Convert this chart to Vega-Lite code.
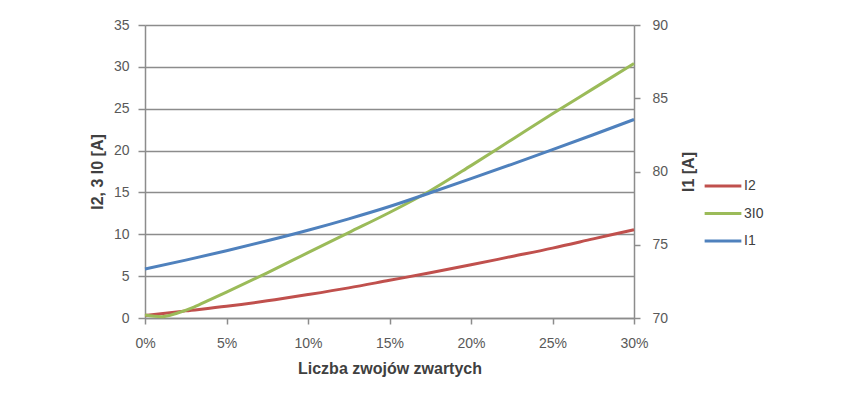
{
  "$schema": "https://vega.github.io/schema/vega-lite/v6.json",
  "autosize": {"type": "none"},
  "width": 489,
  "height": 293,
  "padding": {"left": 145, "top": 25, "right": 231, "bottom": 91},
  "background": "#ffffff",
  "config": {
    "view": {"stroke": null},
    "font": "Liberation Sans",
    "axis": {
      "labelFont": "Liberation Sans",
      "labelFontSize": 14,
      "labelColor": "#595959",
      "titleFont": "Liberation Sans",
      "titleFontSize": 16,
      "titleFontWeight": "bold",
      "titleColor": "#404040",
      "domainColor": "#8c8c8c",
      "tickColor": "#8c8c8c",
      "tickSize": 6,
      "domainWidth": 1.5,
      "tickWidth": 1.5
    }
  },
  "data": {
    "values": [
      {"x": 0.0, "series": "I2", "value": 0.3},
      {"x": 0.025, "series": "I2", "value": 0.85},
      {"x": 0.05, "series": "I2", "value": 1.4},
      {"x": 0.075, "series": "I2", "value": 2.05},
      {"x": 0.1, "series": "I2", "value": 2.8},
      {"x": 0.125, "series": "I2", "value": 3.6},
      {"x": 0.15, "series": "I2", "value": 4.5},
      {"x": 0.175, "series": "I2", "value": 5.4},
      {"x": 0.2, "series": "I2", "value": 6.35},
      {"x": 0.225, "series": "I2", "value": 7.35},
      {"x": 0.25, "series": "I2", "value": 8.35},
      {"x": 0.275, "series": "I2", "value": 9.45},
      {"x": 0.3, "series": "I2", "value": 10.55},
      {"x": 0.0, "series": "3I0", "value": 0.35},
      {"x": 0.01, "series": "3I0", "value": 0.15},
      {"x": 0.02, "series": "3I0", "value": 0.6},
      {"x": 0.03, "series": "3I0", "value": 1.3},
      {"x": 0.04, "series": "3I0", "value": 2.2},
      {"x": 0.05, "series": "3I0", "value": 3.1},
      {"x": 0.075, "series": "3I0", "value": 5.4},
      {"x": 0.1, "series": "3I0", "value": 7.8},
      {"x": 0.125, "series": "3I0", "value": 10.2},
      {"x": 0.15, "series": "3I0", "value": 12.6},
      {"x": 0.175, "series": "3I0", "value": 15.2},
      {"x": 0.2, "series": "3I0", "value": 18.2},
      {"x": 0.225, "series": "3I0", "value": 21.3},
      {"x": 0.25, "series": "3I0", "value": 24.4},
      {"x": 0.275, "series": "3I0", "value": 27.4},
      {"x": 0.3, "series": "3I0", "value": 30.4},
      {"x": 0.0, "series": "I1", "value": 73.35},
      {"x": 0.025, "series": "I1", "value": 73.95},
      {"x": 0.05, "series": "I1", "value": 74.59},
      {"x": 0.075, "series": "I1", "value": 75.27},
      {"x": 0.1, "series": "I1", "value": 75.99},
      {"x": 0.125, "series": "I1", "value": 76.77},
      {"x": 0.15, "series": "I1", "value": 77.61},
      {"x": 0.175, "series": "I1", "value": 78.55},
      {"x": 0.2, "series": "I1", "value": 79.51},
      {"x": 0.225, "series": "I1", "value": 80.49},
      {"x": 0.25, "series": "I1", "value": 81.49},
      {"x": 0.275, "series": "I1", "value": 82.51},
      {"x": 0.3, "series": "I1", "value": 83.55}
    ]
  },
  "encoding": {
    "x": {
      "field": "x",
      "type": "quantitative",
      "scale": {"domain": [0, 0.3], "nice": false, "zero": false},
      "axis": {
        "format": "%",
        "values": [0, 0.05, 0.1, 0.15, 0.2, 0.25, 0.3],
        "grid": false,
        "labelFlush": false,
        "title": "Liczba zwojów zwartych",
        "titlePadding": 10,
        "labelPadding": 12
      }
    },
    "color": {
      "field": "series",
      "type": "nominal",
      "scale": {"domain": ["I2", "3I0", "I1"], "range": ["#c0504d", "#9bbb59", "#4f81bd"]},
      "legend": {
        "title": null,
        "orient": "none",
        "legendX": 558,
        "legendY": 141,
        "symbolType": "stroke",
        "symbolSize": 1350,
        "symbolStrokeWidth": 3,
        "labelFontSize": 14,
        "labelColor": "#404040",
        "labelFont": "Liberation Sans",
        "rowPadding": 0.5,
        "labelOffset": 1
      }
    }
  },
  "layer": [
    {
      "transform": [{"filter": "datum.series !== 'I1'"}],
      "mark": {"type": "line", "strokeWidth": 3, "interpolate": "monotone"},
      "encoding": {
        "y": {
          "field": "value",
          "type": "quantitative",
          "scale": {"domain": [0, 35], "nice": false},
          "axis": {
            "values": [0, 5, 10, 15, 20, 25, 30, 35],
            "title": "I2, 3 I0 [A]",
            "grid": true,
            "gridColor": "#8c8c8c",
            "gridWidth": 1.5,
            "tickSize": 7,
            "titlePadding": 8,
            "labelPadding": 9
          }
        }
      }
    },
    {
      "transform": [{"filter": "datum.series === 'I1'"}],
      "mark": {"type": "line", "strokeWidth": 3, "interpolate": "monotone"},
      "encoding": {
        "y": {
          "field": "value",
          "type": "quantitative",
          "scale": {"domain": [70, 90], "nice": false, "zero": false},
          "axis": {
            "orient": "right",
            "values": [70, 75, 80, 85, 90],
            "title": "I1 [A]",
            "titleAngle": 270,
            "titleBaseline": "top",
            "grid": false,
            "titlePadding": 13,
            "labelPadding": 12
          }
        }
      }
    }
  ],
  "resolve": {"scale": {"y": "independent"}}
}
